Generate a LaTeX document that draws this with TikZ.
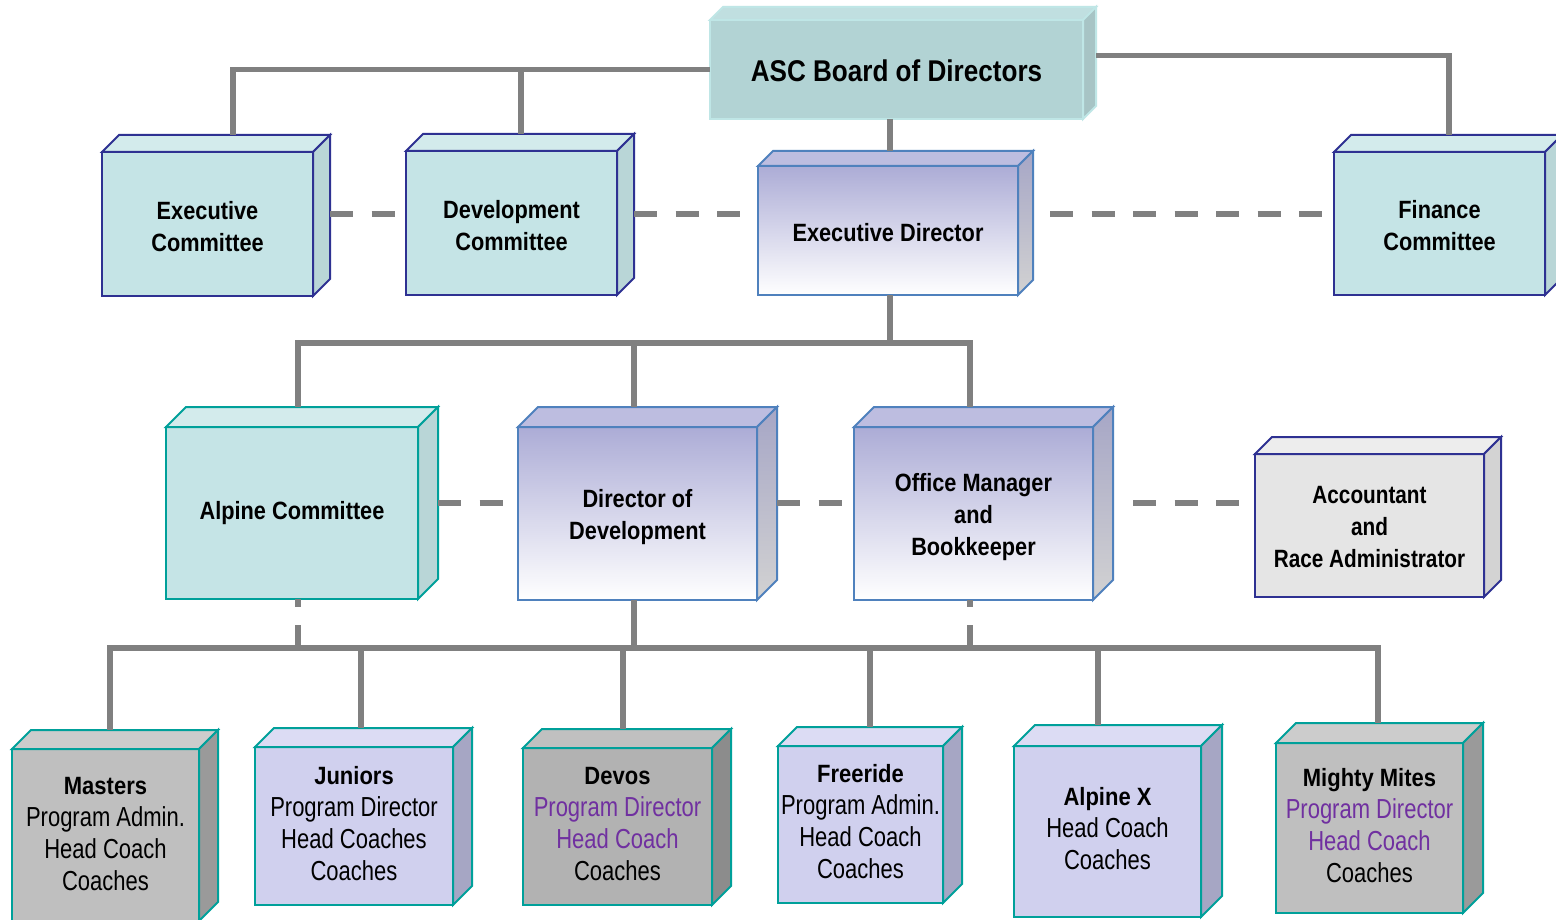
\documentclass[tikz,border=0pt]{standalone}
\usepackage{fontspec}
\setmainfont{Liberation Sans}
\newfontfamily\fTop[FakeStretch=0.87]{Liberation Sans}
\newfontfamily\fAcc[FakeStretch=0.83]{Liberation Sans}
\newfontfamily\fBot[FakeStretch=0.80]{Liberation Sans}
\newfontfamily\fBotB[FakeStretch=0.88]{Liberation Sans}
\newcommand{\bxtitle}[1]{{\fBotB\bfseries\fontsize{25}{32}\selectfont #1}}

\definecolor{linegray}{HTML}{808080}
\definecolor{cnavy}{HTML}{2E3192}
\definecolor{tealb}{HTML}{00A09A}
\definecolor{steel}{HTML}{4F81BD}
\definecolor{tfront}{HTML}{C5E4E6}
\definecolor{ttop}{HTML}{D3EBEC}
\definecolor{tside}{HTML}{B9D6D7}
\definecolor{afront}{HTML}{B2D3D4}
\definecolor{atop}{HTML}{C0DFE0}
\definecolor{aside}{HTML}{A7C4C5}
\definecolor{aborder}{HTML}{BFE6E6}
\definecolor{gtopc}{HTML}{ACACD6}
\definecolor{gtopface}{HTML}{BDBDE0}
\definecolor{gsideA}{HTML}{A6A6C6}
\definecolor{gsideB}{HTML}{D2D2D2}
\definecolor{accf}{HTML}{E5E5E5}
\definecolor{acct}{HTML}{EDEDED}
\definecolor{accs}{HTML}{D3D3D3}
\definecolor{grayf}{HTML}{BFBFBF}
\definecolor{grayt}{HTML}{CCCCCC}
\definecolor{grays}{HTML}{9A9A9A}
\definecolor{grayfd}{HTML}{B2B2B2}
\definecolor{graytd}{HTML}{C0C0C0}
\definecolor{graysd}{HTML}{8C8C8C}
\definecolor{lavf}{HTML}{D0D0EE}
\definecolor{lavt}{HTML}{DCDCF4}
\definecolor{lavs}{HTML}{A6A6C4}
\definecolor{purp}{HTML}{7030A0}

\tikzset{
  conn/.style={draw=linegray, line width=5.5pt},
  dconn/.style={conn, dash pattern=on 23pt off 18.5pt},
  face/.style={line width=2pt, line join=miter},
  cube/.style={face, rectangle, inner sep=0pt, outer sep=0pt},
  boxtext/.style={inner sep=0pt, align=center},
  tnfront/.style={cube, draw=cnavy, fill=tfront},
  tntop/.style={face, draw=cnavy, fill=ttop},
  tnside/.style={face, draw=cnavy, fill=tside},
  ttfront/.style={cube, draw=tealb, fill=tfront},
  tttop/.style={face, draw=tealb, fill=ttop},
  ttside/.style={face, draw=tealb, fill=tside},
  asfront/.style={cube, draw=aborder, fill=afront},
  astop/.style={face, draw=aborder, fill=atop},
  asside/.style={face, draw=aborder, fill=aside},
  grfront/.style={cube, draw=steel, top color=gtopc, bottom color=white},
  grtop/.style={face, draw=steel, fill=gtopface},
  grside/.style={face, draw=steel, top color=gsideA, bottom color=gsideB},
  acfront/.style={cube, draw=cnavy, fill=accf},
  actop/.style={face, draw=cnavy, fill=acct},
  acside/.style={face, draw=cnavy, fill=accs},
  gyfront/.style={cube, draw=tealb, fill=grayf},
  gytop/.style={face, draw=tealb, fill=grayt},
  gyside/.style={face, draw=tealb, fill=grays},
  gdfront/.style={cube, draw=tealb, fill=grayfd},
  gdtop/.style={face, draw=tealb, fill=graytd},
  gdside/.style={face, draw=tealb, fill=graysd},
  lvfront/.style={cube, draw=tealb, fill=lavf},
  lvtop/.style={face, draw=tealb, fill=lavt},
  lvside/.style={face, draw=tealb, fill=lavs},
  fasc/.style={font=\fTop\bfseries\fontsize{30}{36}\selectfont},
  ftop/.style={font=\fTop\bfseries\fontsize{25}{32}\selectfont},
  facc/.style={font=\fAcc\bfseries\fontsize{25}{32}\selectfont},
  fbot/.style={font=\fBot\fontsize{27.5}{32}\selectfont},
}

% #1 name, #2 centre, #3 width, #4 height, #5 depth, #6 kind, #7 font style, #8 text, #9 text offset
\newcommand{\cubenode}[9]{%
  \node[#6front,minimum width=#3pt,minimum height=#4pt] (#1) at (#2) {};
  \path[#6top] (#1.north west) -- ++(#5pt,#5pt) -- ([shift={(#5pt,#5pt)}]#1.north east) -- (#1.north east) -- cycle;
  \path[#6side] (#1.north east) -- ([shift={(#5pt,#5pt)}]#1.north east) -- ([shift={(#5pt,#5pt)}]#1.south east) -- (#1.south east) -- cycle;
  \node[boxtext,#7] (#1t) at ([yshift=#9pt]#1.center) {#8};
}

\begin{document}
\begin{tikzpicture}[x=1pt,y=-1pt]
\useasboundingbox (0,0) rectangle (1556,920);
\fill[white] (0,0) rectangle (1556,920);

% top row
\cubenode{asc}{896.5,69.5}{373}{99}{13}{as}{fasc}{ASC Board of Directors}{-1}
\cubenode{exc}{207.5,224}{211}{144}{17}{tn}{ftop}{Executive\\Committee}{-2.5}
\cubenode{dvc}{511.5,223}{211}{144}{17}{tn}{ftop}{Development\\Committee}{-2.5}
\cubenode{exd}{888,230.5}{260}{129}{15}{gr}{ftop}{Executive Director}{-2}
\cubenode{fin}{1439.5,223.5}{211}{143}{17}{tn}{ftop}{Finance\\Committee}{-2.5}

% middle row
\cubenode{alp}{292,513}{252}{172}{20}{tt}{ftop}{Alpine Committee}{0}
\cubenode{dod}{637.5,513.5}{239}{173}{20}{gr}{ftop}{Director of\\Development}{-4}
\cubenode{ofm}{973.5,513.5}{239}{173}{20}{gr}{ftop}{Office Manager\\and\\Bookkeeper}{-4}
\cubenode{acc}{1369.5,525.5}{229}{143}{17}{ac}{facc}{Accountant\\and\\Race Administrator}{-2}

% bottom row
\cubenode{mas}{105.5,835}{187}{172}{19}{gy}{fbot}{\bxtitle{Masters}\\Program Admin.\\Head Coach\\Coaches}{1}
\cubenode{jun}{354,826}{198}{158}{19}{lv}{fbot}{\bxtitle{Juniors}\\Program Director\\Head Coaches\\Coaches}{2}
\cubenode{dev}{617.5,826.5}{189}{157}{19}{gd}{fbot}{\bxtitle{Devos}\\\textcolor{purp}{Program Director}\\\textcolor{purp}{Head Coach}\\Coaches}{2}
\cubenode{fre}{860.5,824.5}{165}{157}{19}{lv}{fbot}{\bxtitle{Freeride}\\Program Admin.\\Head Coach\\Coaches}{3}
\cubenode{alx}{1107.5,831.5}{187}{171}{21}{lv}{fbot}{\bxtitle{Alpine X}\\Head Coach\\Coaches}{3}
\cubenode{mmt}{1369.5,828}{187}{170}{20}{gy}{fbot}{\bxtitle{Mighty Mites}\\\textcolor{purp}{Program Director}\\\textcolor{purp}{Head Coach}\\Coaches}{2}

\coordinate (midbus) at (890,343);
\coordinate (botbus) at (634,648);

% solid connectors
\draw[conn] (asc.west) -| ([shift={(25.5pt,17pt)}]exc.north);
\draw[conn] ([shift={(9.5pt,17pt)}]dvc.north) |- (asc.west);
\draw[conn] ([shift={(13pt,14pt)}]asc.east) -| ([shift={(9.5pt,17pt)}]fin.north);
\draw[conn] ([xshift=-6.5pt]asc.south) -- ([shift={(2pt,15pt)}]exd.north);
\draw[conn] ([xshift=2pt]exd.south) -- (midbus);
\draw[conn] ([shift={(6pt,20pt)}]alp.north) |- (midbus) -| ([shift={(-3.5pt,20pt)}]ofm.north);
\draw[conn] ([shift={(-3.5pt,20pt)}]dod.north) |- (midbus);
\draw[conn] ([xshift=-3.5pt]dod.south) -- (botbus);
\draw[conn] ([shift={(4.5pt,19pt)}]mas.north) |- (botbus) -| ([shift={(8.5pt,20pt)}]mmt.north);
\draw[conn] ([shift={(7pt,19pt)}]jun.north) |- (botbus);
\draw[conn] ([shift={(5.5pt,19pt)}]dev.north) |- (botbus);
\draw[conn] ([shift={(9.5pt,19pt)}]fre.north) |- (botbus);
\draw[conn] ([shift={(-9.5pt,21pt)}]alx.north) |- (botbus);

% dashed connectors
\draw[dconn] ([shift={(17pt,10pt)}]exc.east) -- ([yshift=9pt]dvc.west);
\draw[dconn] ([shift={(17pt,9pt)}]dvc.east) -- ([yshift=16.5pt]exd.west);
\draw[dconn] ([shift={(32pt,16.5pt)}]exd.east) -- ([yshift=9.5pt]fin.west);
\draw[dconn] ([shift={(20pt,10pt)}]alp.east) -- ([yshift=10.5pt]dod.west);
\draw[dconn] ([shift={(20pt,10.5pt)}]dod.east) -- ([yshift=10.5pt]ofm.west);
\draw[dconn] ([shift={(40pt,10.5pt)}]ofm.east) -- ([yshift=22.5pt]acc.west);
\draw[dconn] ([xshift=6pt]alp.south |- botbus) -- ([xshift=6pt]alp.south);
\draw[dconn] ([xshift=-3.5pt]ofm.south |- botbus) -- ([xshift=-3.5pt]ofm.south);
\end{tikzpicture}
\end{document}
